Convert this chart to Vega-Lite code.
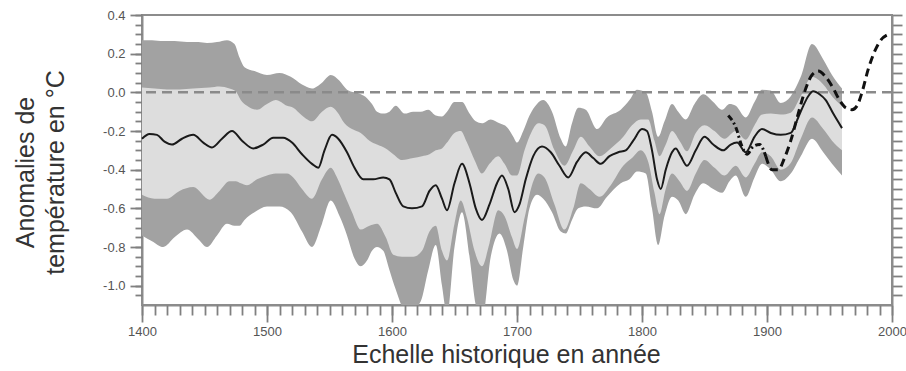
{
  "$schema": "https://vega.github.io/schema/vega-lite/v6.json",
  "width": 750,
  "height": 290,
  "autosize": "none",
  "padding": {"left": 142, "top": 15, "right": 14, "bottom": 66},
  "background": "white",
  "config": {
    "view": {"stroke": "#8c8c8c", "strokeWidth": 2},
    "font": "Liberation Sans",
    "axis": {
      "grid": false,
      "domainColor": "#8c8c8c",
      "domainWidth": 2,
      "tickColor": "#808080",
      "tickWidth": 1.8,
      "labelColor": "#555555",
      "labelFont": "Liberation Sans",
      "labelFontSize": 13,
      "titleFont": "Liberation Sans",
      "titleFontSize": 25,
      "titleFontWeight": "normal",
      "titleColor": "#333333"
    }
  },
  "datasets": {
    "outer": [
      {"year": 1400, "lo": -0.74, "hi": 0.27}, {"year": 1408, "lo": -0.77, "hi": 0.27},
      {"year": 1417, "lo": -0.80, "hi": 0.265}, {"year": 1426, "lo": -0.75, "hi": 0.265},
      {"year": 1436, "lo": -0.71, "hi": 0.26}, {"year": 1445, "lo": -0.76, "hi": 0.26},
      {"year": 1452, "lo": -0.80, "hi": 0.255}, {"year": 1460, "lo": -0.74, "hi": 0.26},
      {"year": 1468, "lo": -0.68, "hi": 0.27}, {"year": 1474, "lo": -0.69, "hi": 0.25},
      {"year": 1478, "lo": -0.69, "hi": 0.18}, {"year": 1482, "lo": -0.66, "hi": 0.13},
      {"year": 1490, "lo": -0.62, "hi": 0.11}, {"year": 1500, "lo": -0.59, "hi": 0.09},
      {"year": 1510, "lo": -0.59, "hi": 0.1}, {"year": 1519, "lo": -0.62, "hi": 0.08},
      {"year": 1528, "lo": -0.72, "hi": 0.04}, {"year": 1536, "lo": -0.80, "hi": 0.02},
      {"year": 1544, "lo": -0.68, "hi": 0.05}, {"year": 1551, "lo": -0.56, "hi": 0.09},
      {"year": 1558, "lo": -0.64, "hi": 0.06}, {"year": 1564, "lo": -0.74, "hi": 0.014},
      {"year": 1570, "lo": -0.86, "hi": 0.0}, {"year": 1575, "lo": -0.90, "hi": -0.01},
      {"year": 1580, "lo": -0.87, "hi": -0.03}, {"year": 1584, "lo": -0.82, "hi": -0.06},
      {"year": 1588, "lo": -0.80, "hi": -0.1}, {"year": 1593, "lo": -0.82, "hi": -0.11},
      {"year": 1598, "lo": -0.92, "hi": -0.1}, {"year": 1603, "lo": -1.02, "hi": -0.07},
      {"year": 1610, "lo": -1.12, "hi": -0.11}, {"year": 1617, "lo": -1.12, "hi": -0.1},
      {"year": 1623, "lo": -1.08, "hi": -0.1}, {"year": 1629, "lo": -0.92, "hi": -0.09},
      {"year": 1635, "lo": -0.79, "hi": -0.12}, {"year": 1640, "lo": -1.0, "hi": -0.125},
      {"year": 1644, "lo": -1.15, "hi": -0.1}, {"year": 1650, "lo": -0.8, "hi": -0.05},
      {"year": 1656, "lo": -0.62, "hi": -0.05}, {"year": 1662, "lo": -0.85, "hi": -0.11},
      {"year": 1667, "lo": -1.1, "hi": -0.15}, {"year": 1672, "lo": -1.18, "hi": -0.16},
      {"year": 1679, "lo": -0.85, "hi": -0.14}, {"year": 1686, "lo": -0.73, "hi": -0.16},
      {"year": 1692, "lo": -0.82, "hi": -0.18}, {"year": 1697, "lo": -0.97, "hi": -0.23},
      {"year": 1700, "lo": -1.0, "hi": -0.26}, {"year": 1705, "lo": -0.8, "hi": -0.2},
      {"year": 1710, "lo": -0.6, "hi": -0.12}, {"year": 1716, "lo": -0.53, "hi": -0.06},
      {"year": 1721, "lo": -0.55, "hi": -0.04}, {"year": 1728, "lo": -0.62, "hi": -0.1},
      {"year": 1735, "lo": -0.72, "hi": -0.24}, {"year": 1739, "lo": -0.73, "hi": -0.28},
      {"year": 1744, "lo": -0.66, "hi": -0.16}, {"year": 1749, "lo": -0.6, "hi": -0.08},
      {"year": 1755, "lo": -0.59, "hi": -0.09}, {"year": 1764, "lo": -0.6, "hi": -0.19},
      {"year": 1772, "lo": -0.54, "hi": -0.13}, {"year": 1783, "lo": -0.47, "hi": -0.09},
      {"year": 1790, "lo": -0.45, "hi": -0.04}, {"year": 1796, "lo": -0.41, "hi": 0.014},
      {"year": 1803, "lo": -0.42, "hi": 0.0}, {"year": 1808, "lo": -0.6, "hi": -0.1},
      {"year": 1813, "lo": -0.79, "hi": -0.23}, {"year": 1818, "lo": -0.64, "hi": -0.15},
      {"year": 1824, "lo": -0.54, "hi": -0.06}, {"year": 1829, "lo": -0.56, "hi": -0.1},
      {"year": 1835, "lo": -0.63, "hi": -0.14}, {"year": 1842, "lo": -0.53, "hi": -0.06},
      {"year": 1849, "lo": -0.47, "hi": -0.01}, {"year": 1857, "lo": -0.5, "hi": -0.05},
      {"year": 1864, "lo": -0.52, "hi": -0.09}, {"year": 1870, "lo": -0.46, "hi": -0.06},
      {"year": 1875, "lo": -0.43, "hi": -0.07}, {"year": 1883, "lo": -0.54, "hi": -0.13},
      {"year": 1890, "lo": -0.44, "hi": -0.05}, {"year": 1896, "lo": -0.37, "hi": 0.014},
      {"year": 1903, "lo": -0.4, "hi": 0.01}, {"year": 1911, "lo": -0.46, "hi": -0.055},
      {"year": 1919, "lo": -0.42, "hi": -0.02}, {"year": 1927, "lo": -0.33, "hi": 0.08},
      {"year": 1936, "lo": -0.24, "hi": 0.25}, {"year": 1945, "lo": -0.31, "hi": 0.17},
      {"year": 1952, "lo": -0.37, "hi": 0.09}, {"year": 1960, "lo": -0.43, "hi": 0.02}
    ],
    "inner": [
      {"year": 1400, "lo": -0.53, "hi": 0.025}, {"year": 1410, "lo": -0.55, "hi": 0.02},
      {"year": 1420, "lo": -0.55, "hi": 0.015}, {"year": 1430, "lo": -0.51, "hi": 0.015},
      {"year": 1441, "lo": -0.49, "hi": 0.02}, {"year": 1454, "lo": -0.555, "hi": 0.025},
      {"year": 1462, "lo": -0.51, "hi": 0.03}, {"year": 1470, "lo": -0.46, "hi": 0.02},
      {"year": 1475, "lo": -0.46, "hi": 0.005}, {"year": 1479, "lo": -0.47, "hi": -0.04},
      {"year": 1484, "lo": -0.48, "hi": -0.07}, {"year": 1492, "lo": -0.45, "hi": -0.09},
      {"year": 1500, "lo": -0.43, "hi": -0.06}, {"year": 1507, "lo": -0.42, "hi": -0.04},
      {"year": 1516, "lo": -0.42, "hi": -0.07}, {"year": 1521, "lo": -0.44, "hi": -0.08},
      {"year": 1528, "lo": -0.5, "hi": -0.12}, {"year": 1536, "lo": -0.55, "hi": -0.15},
      {"year": 1544, "lo": -0.45, "hi": -0.1}, {"year": 1551, "lo": -0.39, "hi": -0.075},
      {"year": 1556, "lo": -0.44, "hi": -0.1}, {"year": 1562, "lo": -0.53, "hi": -0.16},
      {"year": 1568, "lo": -0.62, "hi": -0.19}, {"year": 1575, "lo": -0.71, "hi": -0.21},
      {"year": 1582, "lo": -0.69, "hi": -0.25}, {"year": 1588, "lo": -0.68, "hi": -0.27},
      {"year": 1595, "lo": -0.75, "hi": -0.29}, {"year": 1601, "lo": -0.84, "hi": -0.32},
      {"year": 1608, "lo": -0.85, "hi": -0.35}, {"year": 1617, "lo": -0.85, "hi": -0.34},
      {"year": 1624, "lo": -0.82, "hi": -0.33}, {"year": 1630, "lo": -0.72, "hi": -0.32},
      {"year": 1635, "lo": -0.69, "hi": -0.3}, {"year": 1640, "lo": -0.82, "hi": -0.29},
      {"year": 1644, "lo": -0.87, "hi": -0.26}, {"year": 1650, "lo": -0.68, "hi": -0.21},
      {"year": 1655, "lo": -0.56, "hi": -0.2}, {"year": 1660, "lo": -0.65, "hi": -0.26},
      {"year": 1666, "lo": -0.82, "hi": -0.35}, {"year": 1672, "lo": -0.9, "hi": -0.42},
      {"year": 1678, "lo": -0.78, "hi": -0.37}, {"year": 1685, "lo": -0.61, "hi": -0.33},
      {"year": 1690, "lo": -0.64, "hi": -0.37}, {"year": 1696, "lo": -0.75, "hi": -0.43},
      {"year": 1700, "lo": -0.81, "hi": -0.43}, {"year": 1706, "lo": -0.65, "hi": -0.3},
      {"year": 1712, "lo": -0.48, "hi": -0.2}, {"year": 1717, "lo": -0.42, "hi": -0.16},
      {"year": 1722, "lo": -0.44, "hi": -0.17}, {"year": 1730, "lo": -0.58, "hi": -0.3},
      {"year": 1738, "lo": -0.71, "hi": -0.38}, {"year": 1745, "lo": -0.6, "hi": -0.3},
      {"year": 1751, "lo": -0.47, "hi": -0.23}, {"year": 1758, "lo": -0.5, "hi": -0.28},
      {"year": 1766, "lo": -0.54, "hi": -0.33}, {"year": 1775, "lo": -0.48, "hi": -0.29},
      {"year": 1785, "lo": -0.38, "hi": -0.23}, {"year": 1792, "lo": -0.34, "hi": -0.17},
      {"year": 1799, "lo": -0.3, "hi": -0.14}, {"year": 1805, "lo": -0.36, "hi": -0.14},
      {"year": 1810, "lo": -0.52, "hi": -0.25}, {"year": 1814, "lo": -0.63, "hi": -0.33},
      {"year": 1819, "lo": -0.5, "hi": -0.27}, {"year": 1824, "lo": -0.42, "hi": -0.2},
      {"year": 1830, "lo": -0.46, "hi": -0.25}, {"year": 1836, "lo": -0.51, "hi": -0.305},
      {"year": 1843, "lo": -0.42, "hi": -0.21}, {"year": 1850, "lo": -0.35, "hi": -0.17},
      {"year": 1858, "lo": -0.39, "hi": -0.2}, {"year": 1866, "lo": -0.43, "hi": -0.24},
      {"year": 1875, "lo": -0.38, "hi": -0.2}, {"year": 1883, "lo": -0.44, "hi": -0.245},
      {"year": 1890, "lo": -0.37, "hi": -0.17}, {"year": 1896, "lo": -0.31, "hi": -0.115},
      {"year": 1903, "lo": -0.33, "hi": -0.11}, {"year": 1911, "lo": -0.4, "hi": -0.115},
      {"year": 1919, "lo": -0.365, "hi": -0.105}, {"year": 1927, "lo": -0.24, "hi": -0.02},
      {"year": 1936, "lo": -0.13, "hi": 0.08}, {"year": 1945, "lo": -0.19, "hi": 0.04},
      {"year": 1952, "lo": -0.25, "hi": -0.02}, {"year": 1960, "lo": -0.3, "hi": -0.07}
    ],
    "mean": [
      {"year": 1400, "v": -0.24}, {"year": 1406, "v": -0.215}, {"year": 1412, "v": -0.22},
      {"year": 1418, "v": -0.255}, {"year": 1424, "v": -0.27}, {"year": 1432, "v": -0.24},
      {"year": 1441, "v": -0.22}, {"year": 1449, "v": -0.26}, {"year": 1456, "v": -0.285},
      {"year": 1464, "v": -0.24}, {"year": 1472, "v": -0.2}, {"year": 1480, "v": -0.25},
      {"year": 1489, "v": -0.29}, {"year": 1497, "v": -0.27}, {"year": 1505, "v": -0.235},
      {"year": 1513, "v": -0.235}, {"year": 1520, "v": -0.26}, {"year": 1528, "v": -0.32},
      {"year": 1536, "v": -0.37}, {"year": 1541, "v": -0.39}, {"year": 1546, "v": -0.3},
      {"year": 1552, "v": -0.22}, {"year": 1557, "v": -0.24}, {"year": 1564, "v": -0.31},
      {"year": 1570, "v": -0.39}, {"year": 1577, "v": -0.45}, {"year": 1585, "v": -0.45},
      {"year": 1593, "v": -0.44}, {"year": 1598, "v": -0.45}, {"year": 1603, "v": -0.52},
      {"year": 1609, "v": -0.59}, {"year": 1616, "v": -0.6}, {"year": 1624, "v": -0.59},
      {"year": 1630, "v": -0.51}, {"year": 1635, "v": -0.48}, {"year": 1640, "v": -0.55},
      {"year": 1644, "v": -0.61}, {"year": 1650, "v": -0.47}, {"year": 1656, "v": -0.37},
      {"year": 1662, "v": -0.47}, {"year": 1667, "v": -0.6}, {"year": 1672, "v": -0.66},
      {"year": 1678, "v": -0.58}, {"year": 1684, "v": -0.47}, {"year": 1688, "v": -0.43},
      {"year": 1693, "v": -0.5}, {"year": 1698, "v": -0.62}, {"year": 1702, "v": -0.58},
      {"year": 1707, "v": -0.45}, {"year": 1713, "v": -0.33}, {"year": 1720, "v": -0.28},
      {"year": 1727, "v": -0.31}, {"year": 1734, "v": -0.38}, {"year": 1741, "v": -0.44},
      {"year": 1748, "v": -0.36}, {"year": 1755, "v": -0.31}, {"year": 1761, "v": -0.34},
      {"year": 1767, "v": -0.37}, {"year": 1774, "v": -0.33}, {"year": 1781, "v": -0.31},
      {"year": 1787, "v": -0.3}, {"year": 1793, "v": -0.25}, {"year": 1800, "v": -0.19},
      {"year": 1804, "v": -0.2}, {"year": 1808, "v": -0.3}, {"year": 1812, "v": -0.45},
      {"year": 1815, "v": -0.5}, {"year": 1819, "v": -0.4}, {"year": 1824, "v": -0.31},
      {"year": 1827, "v": -0.29}, {"year": 1831, "v": -0.33}, {"year": 1836, "v": -0.38},
      {"year": 1843, "v": -0.3}, {"year": 1850, "v": -0.23}, {"year": 1857, "v": -0.27},
      {"year": 1865, "v": -0.3}, {"year": 1871, "v": -0.27}, {"year": 1876, "v": -0.26},
      {"year": 1883, "v": -0.31}, {"year": 1890, "v": -0.23}, {"year": 1896, "v": -0.19},
      {"year": 1903, "v": -0.21}, {"year": 1911, "v": -0.22}, {"year": 1919, "v": -0.21},
      {"year": 1925, "v": -0.13}, {"year": 1929, "v": -0.07}, {"year": 1933, "v": -0.02},
      {"year": 1937, "v": 0.005}, {"year": 1942, "v": -0.01}, {"year": 1947, "v": -0.04},
      {"year": 1953, "v": -0.11}, {"year": 1960, "v": -0.185}
    ],
    "instr": [
      {"year": 1869, "v": -0.12, "s": "a"}, {"year": 1875, "v": -0.18, "s": "a"},
      {"year": 1880, "v": -0.28, "s": "a"}, {"year": 1884, "v": -0.32, "s": "a"},
      {"year": 1889, "v": -0.28, "s": "a"}, {"year": 1894, "v": -0.27, "s": "a"},
      {"year": 1899, "v": -0.33, "s": "a"},
      {"year": 1899, "v": -0.33, "s": "b"}, {"year": 1904, "v": -0.4, "s": "b"},
      {"year": 1909, "v": -0.4, "s": "b"}, {"year": 1914, "v": -0.34, "s": "b"},
      {"year": 1919, "v": -0.25, "s": "b"}, {"year": 1925, "v": -0.11, "s": "b"},
      {"year": 1931, "v": 0.02, "s": "b"}, {"year": 1936, "v": 0.09, "s": "b"},
      {"year": 1941, "v": 0.11, "s": "b"}, {"year": 1947, "v": 0.08, "s": "b"},
      {"year": 1953, "v": 0.02, "s": "b"}, {"year": 1958, "v": -0.04, "s": "b"},
      {"year": 1963, "v": -0.08, "s": "b"}, {"year": 1968, "v": -0.09, "s": "b"},
      {"year": 1972, "v": -0.07, "s": "b"}, {"year": 1976, "v": 0.0, "s": "b"},
      {"year": 1981, "v": 0.12, "s": "b"}, {"year": 1986, "v": 0.21, "s": "b"},
      {"year": 1991, "v": 0.27, "s": "b"}, {"year": 1997, "v": 0.3, "s": "b"}
    ]
  },
  "layer": [
    {
      "data": {"name": "outer"},
      "mark": {"type": "area", "color": "#a2a2a2", "interpolate": "monotone", "clip": true},
      "encoding": {
        "x": {
          "field": "year", "type": "quantitative",
          "scale": {"domain": [1400, 2000], "nice": false, "zero": false},
          "axis": {
            "orient": "bottom",
            "title": "Echelle historique en année",
            "values": [1400, 1500, 1600, 1700, 1800, 1900, 2000],
            "format": "d",
            "tickSize": 17,
            "labelPadding": 3,
            "labelFlush": false,
            "labelOverlap": false,
            "titleBaseline": "alphabetic",
            "titleX": 364,
            "titleY": 57
          }
        },
        "y": {
          "field": "lo", "type": "quantitative",
          "scale": {"domain": [-1.1, 0.4], "nice": false, "zero": false},
          "axis": {
            "orient": "left",
            "title": ["Anomalies de", "température en °C"],
            "values": [-1.0, -0.8, -0.6, -0.4, -0.2, 0, 0.2, 0.4],
            "labelExpr": "replace(format(datum.value, '.1f'), '\u2212', '-')",
            "tickSize": 12,
            "labelPadding": 5,
            "labelOverlap": false,
            "labelFlush": false,
            "titleBaseline": "alphabetic",
            "titleAngle": -90,
            "titleAlign": "center",
            "titleLineHeight": 30,
            "titleX": -109,
            "titleY": 157
          }
        },
        "y2": {"field": "hi"}
      }
    },
    {
      "data": {"name": "inner"},
      "mark": {"type": "area", "color": "#dddddd", "interpolate": "monotone", "clip": true},
      "encoding": {
        "x": {
          "field": "year", "type": "quantitative",
          "axis": {
            "orient": "bottom",
            "title": null,
            "labels": false,
            "domain": false,
            "values": [1400,1410,1420,1430,1440,1450,1460,1470,1480,1490,1500,1510,1520,1530,1540,1550,1560,1570,1580,1590,1600,1610,1620,1630,1640,1650,1660,1670,1680,1690,1700,1710,1720,1730,1740,1750,1760,1770,1780,1790,1800,1810,1820,1830,1840,1850,1860,1870,1880,1890,1900,1910,1920,1930,1940,1950,1960,1970,1980,1990,2000],
            "tickSize": 10
          }
        },
        "y": {
          "field": "lo", "type": "quantitative",
          "axis": {
            "orient": "left",
            "title": null,
            "labels": false,
            "domain": false,
            "values": [-1.05,-1,-0.95,-0.9,-0.85,-0.8,-0.75,-0.7,-0.65,-0.6,-0.55,-0.5,-0.45,-0.4,-0.35,-0.3,-0.25,-0.2,-0.15,-0.1,-0.05,0,0.05,0.1,0.15,0.2,0.25,0.3,0.35,0.4],
            "tickSize": 7
          }
        },
        "y2": {"field": "hi"}
      }
    },
    {
      "data": {"values": [{"z": 0}]},
      "mark": {"type": "rule", "color": "#8a8a8a", "strokeWidth": 2.5, "strokeDash": [10, 6]},
      "encoding": {
        "y": {
          "field": "z", "type": "quantitative",
          "axis": {
            "orient": "right",
            "title": null,
            "labels": false,
            "values": [-1.05,-1,-0.95,-0.9,-0.85,-0.8,-0.75,-0.7,-0.65,-0.6,-0.55,-0.5,-0.45,-0.4,-0.35,-0.3,-0.25,-0.2,-0.15,-0.1,-0.05,0,0.05,0.1,0.15,0.2,0.25,0.3,0.35,0.4],
            "tickSize": 10
          }
        }
      }
    },
    {
      "data": {"name": "mean"},
      "mark": {"type": "line", "color": "#1a1a1a", "strokeWidth": 2, "interpolate": "monotone"},
      "encoding": {
        "x": {"field": "year", "type": "quantitative", "axis": null},
        "y": {"field": "v", "type": "quantitative", "axis": null}
      }
    },
    {
      "data": {"name": "instr"},
      "transform": [{"filter": "datum.s == 'a'"}],
      "mark": {"type": "line", "color": "#111111", "strokeWidth": 3, "interpolate": "monotone", "strokeDash": [6, 3, 2, 3]},
      "encoding": {
        "x": {"field": "year", "type": "quantitative", "axis": null},
        "y": {"field": "v", "type": "quantitative", "axis": null}
      }
    },
    {
      "data": {"name": "instr"},
      "transform": [{"filter": "datum.s == 'b'"}],
      "mark": {"type": "line", "color": "#111111", "strokeWidth": 3, "interpolate": "monotone", "strokeDash": [8, 5]},
      "encoding": {
        "x": {"field": "year", "type": "quantitative", "axis": null},
        "y": {"field": "v", "type": "quantitative", "axis": null}
      }
    }
  ],
  "resolve": {"axis": {"x": "independent", "y": "independent"}}
}
